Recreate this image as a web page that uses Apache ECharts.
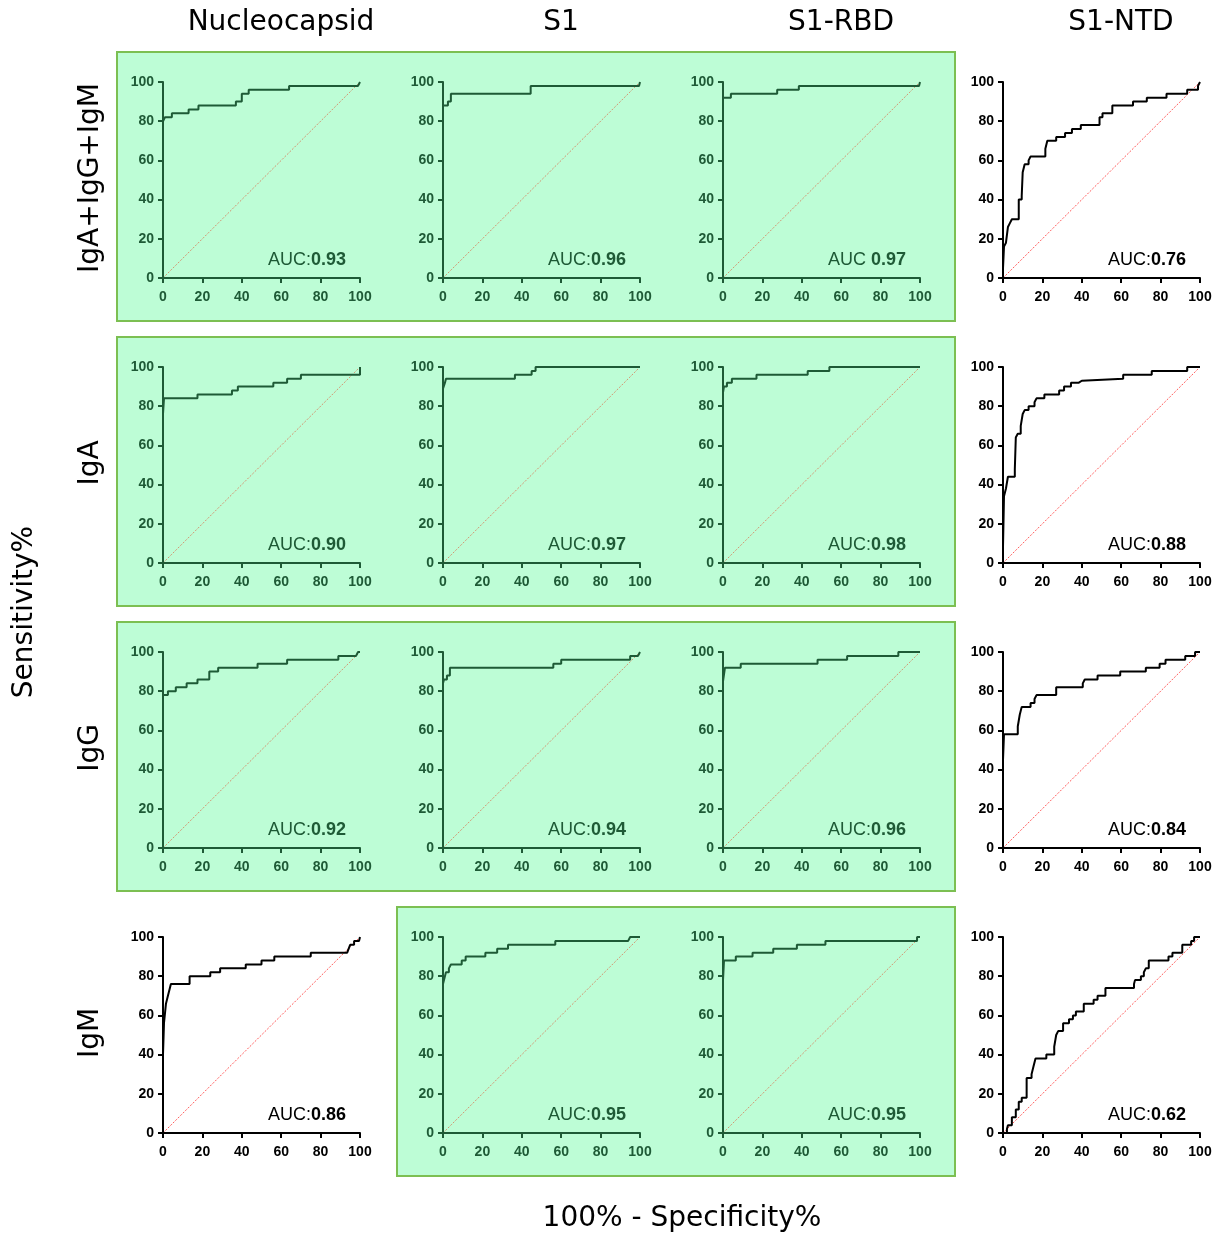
<!DOCTYPE html>
<html>
<head>
<meta charset="utf-8">
<script src="https://cdn.jsdelivr.net/npm/echarts@6/dist/echarts.min.js"></script>
<style>html,body{margin:0;padding:0;background:#fff}#c{width:1217px;height:1236px}</style>
</head>
<body>
<div id="c"></div>
<script>
// ---------- categories / labels ----------
const antigens = ['Nucleocapsid', 'S1', 'S1-RBD', 'S1-NTD'];
const isotypes = ['IgA+IgG+IgM', 'IgA', 'IgG', 'IgM'];
const axisTicks = [0, 20, 40, 60, 80, 100];
const xTitle = '100% - Specificity%';
const yTitle = 'Sensitivity%';

// AUC values, one row per isotype, columns = antigens
const aucTotal = ['0.93', '0.96', '0.97', '0.76'];
const aucIgA   = ['0.90', '0.97', '0.98', '0.88'];
const aucIgG   = ['0.92', '0.94', '0.96', '0.84'];
const aucIgM   = ['0.86', '0.95', '0.95', '0.62'];
const aucPrefix = [['AUC:', 'AUC:', 'AUC ', 'AUC:'], ['AUC:','AUC:','AUC:','AUC:'], ['AUC:','AUC:','AUC:','AUC:'], ['AUC:','AUC:','AUC:','AUC:']];

// highlighted (boxed) panels
const highlighted = [[1,1,1,0],[1,1,1,0],[1,1,1,0],[0,1,1,0]];

// chance line
const chance = [[0, 0], [100, 100]];

// ---------- ROC curves: [100%-Specificity%, Sensitivity%] ----------
const nucTotal = [[0,0],[0,80],[1,80],[1,82],[4.5,82],[4.5,84],[13,84],[13,86],[18,86],[18,88],[37,88],[37,90],[40,90],[40,94],[43.5,94],[43.5,96],[64,96],[64,98],[99,98],[100,100]];
const s1Total  = [[0,0],[0,88],[2.5,88],[2.5,90],[4,90],[4,94],[44.5,94],[44.5,98],[99.5,98],[100,100]];
const rbdTotal = [[0,0],[0,92],[4,92],[4,94],[27.5,94],[27.5,96],[38.5,96],[38.5,98],[99.5,98],[100,100]];
const ntdTotal = [[0,0],[0,5],[0.5,5],[0.5,16],[1.5,16],[1.5,18],[2.5,18],[2.5,26],[3.5,26],[3.5,28],[4.5,28],[4.5,30],[8,30],[8,40],[9.5,40],[9.5,42],[10,42],[10,54],[11,54],[11,58],[13,58],[13,60],[14,60],[14,62],[21.5,62],[21.5,66],[22.5,66],[22.5,70],[27,70],[27,72],[31.5,72],[31.5,74],[35,74],[35,76],[39.5,76],[39.5,78],[49,78],[49,82],[50.5,82],[50.5,84],[55.5,84],[55.5,88],[66,88],[66,90],[73,90],[73,92],[83,92],[83,94],[93.5,94],[93.5,96],[99,96],[99,98],[100,100]];

const nucIgA = [[0,0],[0,76],[0.5,76],[0.5,84],[17.5,84],[17.5,86],[35,86],[35,88],[38,88],[38,90],[56,90],[56,92],[63,92],[63,94],[70,94],[70,96],[100,96],[100,100]];
const s1IgA  = [[0,0],[0,89],[1,92],[1.5,92],[1.5,94],[36.5,94],[36.5,96],[45,96],[45,98],[47,98],[47,100],[100,100]];
const rbdIgA = [[0,0],[0,87],[0.5,87],[0.5,90],[2,90],[2,92],[4.5,92],[4.5,94],[17,94],[17,96],[43,96],[43,98],[54,98],[54,100],[100,100]];
const ntdIgA = [[0,0],[0,8],[0.5,8],[0.5,34],[1.5,34],[1.5,38],[2.5,38],[2.5,44],[6,44],[6,48],[6.5,48],[6.5,64],[7.5,64],[7.5,66],[9,66],[9,70],[10,70],[10,76],[11,76],[11,78],[13,78],[13,80],[16,80],[16,82],[17,82],[17,84],[21,84],[21,86],[28.5,86],[28.5,88],[31,88],[31,90],[34.5,90],[34.5,92],[38.5,92],[38.5,93],[40,93],[40,94],[61,94],[61,96],[75.5,96],[75.5,98],[93.5,98],[93.5,100],[100,100]];

const nucIgG = [[0,0],[0,78],[2.5,78],[2.5,80],[6.5,80],[6.5,82],[12,82],[12,84],[17.5,84],[17.5,86],[23.5,86],[23.5,90],[28,90],[28,92],[48,92],[48,94],[63,94],[63,96],[89,96],[89,98],[98,98],[99,100],[100,100]];
const s1IgG  = [[0,0],[0,84],[0.5,84],[0.5,86],[2,86],[2,88],[3.5,88],[3.5,92],[56,92],[56,94],[60,94],[60,96],[95,96],[95,98],[99,98],[100,100]];
const rbdIgG = [[0,0],[0,85],[1,85],[1,92],[9,92],[9,94],[48,94],[48,96],[63,96],[63,98],[89,98],[89,100],[100,100]];
const ntdIgG = [[0,0],[0,45],[0.5,45],[0.5,58],[7.5,58],[7.5,62],[8.5,62],[8.5,68],[9.5,68],[9.5,72],[14,72],[14,74],[16,74],[16,76],[17,76],[17,78],[27,78],[27,82],[40.5,82],[40.5,84],[41.5,84],[41.5,86],[48,86],[48,88],[59.5,88],[59.5,90],[72.5,90],[72.5,92],[79.5,92],[79.5,94],[82.5,94],[82.5,96],[92.5,96],[92.5,98],[97.5,98],[97.5,100],[100,100]];

const nucIgM = [[0,0],[0,40],[0.5,40],[0.5,56],[1.5,56],[1.5,66],[2.5,66],[2.5,70],[3.5,70],[3.5,74],[4,74],[4,76],[13.5,76],[13.5,80],[24,80],[24,82],[29,82],[29,84],[42,84],[42,86],[50,86],[50,88],[56.5,88],[56.5,90],[75,90],[75,92],[93.5,92],[95,96],[97,96],[97,98],[99.5,98],[100,100]];
const s1IgM  = [[0,0],[0,76],[0.5,76],[0.5,78],[1.5,78],[1.5,82],[3,82],[3,84],[4,84],[4,86],[9.5,86],[9.5,88],[11.5,88],[11.5,90],[21.5,90],[21.5,92],[27.5,92],[27.5,94],[33,94],[33,96],[57,96],[57,98],[94,98],[95,100],[100,100]];
const rbdIgM = [[0,0],[0,78],[0.5,78],[0.5,88],[6.5,88],[6.5,90],[15,90],[15,92],[25.5,92],[25.5,94],[37.5,94],[37.5,96],[52,96],[52,98],[98.5,98],[98.5,100],[100,100]];
const ntdIgM = [[0,0],[2,0],[2,2],[2.5,2],[2.5,4],[4.5,4],[4.5,8],[6.5,8],[6.5,12],[8,12],[8,16],[9.5,16],[9.5,18],[12,18],[12,28],[14.5,28],[14.5,30],[15.5,30],[15.5,34],[16.5,34],[16.5,38],[22,38],[22,40],[26,40],[26,44],[27,44],[27,50],[28,50],[28,52],[30.5,52],[30.5,56],[33.5,56],[33.5,58],[35.5,58],[35.5,60],[37,60],[37,62],[41,62],[41,66],[46,66],[46,68],[48,68],[48,70],[52,70],[52,74],[66.5,74],[66.5,76],[67,76],[67,78],[70,78],[70,80],[71.5,80],[71.5,82],[72.5,82],[72.5,84],[74,84],[74,88],[84,88],[84,90],[86,90],[86,92],[91,92],[91,96],[95.5,96],[95.5,98],[97,98],[97,100],[100,100]];

const curves = [
  [nucTotal, s1Total, rbdTotal, ntdTotal],
  [nucIgA, s1IgA, rbdIgA, ntdIgA],
  [nucIgG, s1IgG, rbdIgG, ntdIgG],
  [nucIgM, s1IgM, rbdIgM, ntdIgM]
];
const aucs = [aucTotal, aucIgA, aucIgG, aucIgM];

// ---------- layout / style ----------
const colX = [163, 443, 723, 1003];
const rowY = [82, 367, 652, 937];
const PW = 197, PH = 196;
const FONT = 'DejaVu Sans';
const SMALL_FONT = 'Liberation Sans';
const GREEN_INK = '#1e5a36';
const GREEN_FILL = '#bdfdd6';
const GREEN_EDGE = '#7cbf52';

const grids = [], xAxes = [], yAxes = [], series = [], titles = [];
let idx = 0;
for (let r = 0; r < 4; r++) {
  for (let c = 0; c < 4; c++) {
    const hl = highlighted[r][c] === 1;
    const ink = hl ? GREEN_INK : '#000000';
    const diag = hl ? '#d39470' : '#ff5a5a';
    grids.push({ left: colX[c], top: rowY[r], width: PW, height: PH });
    const axisCommon = {
      gridIndex: idx, type: 'value', min: 0, max: 100, interval: 20,
      splitLine: { show: false },
      axisLine: { show: true, onZero: false, lineStyle: { color: ink, width: 2 } },
      axisTick: { show: true, inside: false, length: 5, lineStyle: { color: ink, width: 2 } },
      axisLabel: { color: ink, fontFamily: SMALL_FONT, fontWeight: 'bold', fontSize: 14 }
    };
    xAxes.push(Object.assign({}, axisCommon, { axisLabel: Object.assign({}, axisCommon.axisLabel, { margin: 12 }) }));
    yAxes.push(Object.assign({}, axisCommon, { axisLabel: Object.assign({}, axisCommon.axisLabel, { margin: 9 }) }));
    series.push({
      type: 'line', xAxisIndex: idx, yAxisIndex: idx, data: chance,
      showSymbol: false, silent: true, animation: false, z: 2,
      lineStyle: { color: diag, width: 1, type: [2, 1.5] }
    });
    series.push({
      type: 'line', xAxisIndex: idx, yAxisIndex: idx, data: curves[r][c],
      showSymbol: false, silent: true, animation: false, z: 3,
      lineStyle: { color: ink, width: 2 }
    });
    titles.push({
      text: '{a|' + aucPrefix[r][c] + '}{b|' + aucs[r][c] + '}',
      right: 1217 - (colX[c] + PW - 14), top: rowY[r] + PH - 27,
      padding: 0,
      textStyle: { rich: {
        a: { fontFamily: SMALL_FONT, fontSize: 18, color: ink, fontWeight: 'normal' },
        b: { fontFamily: SMALL_FONT, fontSize: 18, color: ink, fontWeight: 'bold' }
      } }
    });
    idx++;
  }
}

const graphics = [];
// highlight boxes
const boxes = [
  { x: 117, y: 52, w: 838, h: 269 },
  { x: 117, y: 337, w: 838, h: 269 },
  { x: 117, y: 622, w: 838, h: 269 },
  { x: 397, y: 907, w: 558, h: 269 }
];
boxes.forEach(b => graphics.push({
  type: 'rect', z: -10, silent: true,
  shape: { x: b.x, y: b.y, width: b.w, height: b.h },
  style: { fill: GREEN_FILL, stroke: GREEN_EDGE, lineWidth: 2 }
}));
antigens.forEach((t, c) => graphics.push({
  type: 'text', x: colX[c] + 118, y: 23, silent: true,
  style: { text: t, font: '28px "' + FONT + '"', fill: '#000', textAlign: 'center', textVerticalAlign: 'middle' }
}));
isotypes.forEach((t, r) => graphics.push({
  type: 'text', x: 91, y: rowY[r] + 96, rotation: Math.PI / 2, silent: true,
  style: { text: t, font: '28px "' + FONT + '"', fill: '#000', textAlign: 'center', textVerticalAlign: 'middle' }
}));
graphics.push({
  type: 'text', x: 25, y: 612, rotation: Math.PI / 2, silent: true,
  style: { text: yTitle, font: '28px "' + FONT + '"', fill: '#000', textAlign: 'center', textVerticalAlign: 'middle' }
});
graphics.push({
  type: 'text', x: 682, y: 1219, silent: true,
  style: { text: xTitle, font: '28px "' + FONT + '"', fill: '#000', textAlign: 'center', textVerticalAlign: 'middle' }
});

const chart = echarts.init(document.getElementById('c'), null, { renderer: 'canvas' });
chart.setOption({
  animation: false,
  backgroundColor: '#ffffff',
  title: titles,
  grid: grids,
  xAxis: xAxes,
  yAxis: yAxes,
  series: series,
  graphic: graphics
});
</script>
</body>
</html>
